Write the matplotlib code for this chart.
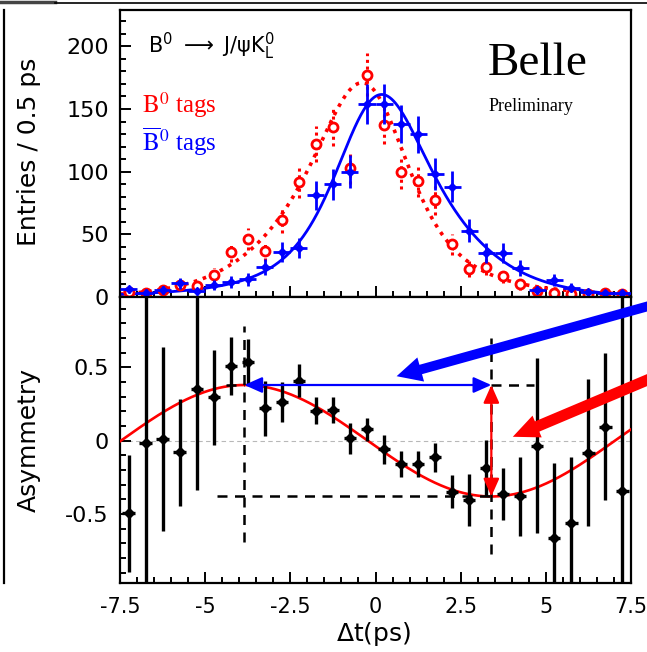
import numpy as np
import matplotlib
matplotlib.use('Agg')
import matplotlib.pyplot as plt
from matplotlib.lines import Line2D
from matplotlib.ticker import MultipleLocator

# bin centres of the 0.5 ps histogram
dt_bins = [-7.25, -6.75, -6.25, -5.75, -5.25, -4.75, -4.25, -3.75, -3.25, -2.75,
           -2.25, -1.75, -1.25, -0.75, -0.25, 0.25, 0.75, 1.25, 1.75, 2.25,
           2.75, 3.25, 3.75, 4.25, 4.75, 5.25, 5.75, 6.25, 6.75, 7.25]
half_bin = 0.25

# B0 tagged events
b0_counts = [4, 3, 5.5, 9.5, 8.5, 17.5, 36, 46, 37, 61.5,
             91.5, 122, 135.5, 103, 177.5, 137, 99.5, 92.5, 77, 42,
             22.5, 24, 16.5, 10, 5, 3, 2, 2, 3.5, 2]
b0_err = [2.6, 2.3, 3.0, 4.0, 3.8, 5.4, 7.8, 8.8, 7.9, 10.2,
          12.4, 14.4, 15.1, 13.2, 17.3, 15.2, 13.0, 12.5, 11.4, 8.4,
          6.2, 6.4, 5.3, 4.1, 2.9, 2.3, 1.8, 1.8, 2.4, 1.8]

# B0bar tagged events
b0bar_counts = [6, 3.5, 5.5, 11, 4.5, 9.5, 12, 14, 24, 36,
                39, 81, 90, 100, 154, 154, 138, 130, 98, 88,
                53, 35, 35, 23, 5.5, 13.5, 7.5, 4, 3, 3.5]
b0bar_err = [3.0, 2.5, 3.0, 4.3, 2.8, 4.0, 4.5, 4.9, 6.4, 7.8,
             8.1, 11.7, 12.3, 13.0, 16.0, 16.0, 15.3, 14.8, 12.9, 12.2,
             9.5, 7.7, 7.7, 6.2, 3.0, 4.8, 3.6, 2.6, 2.3, 2.4]

# asymmetry per bin
asym = [-0.495, -0.018, 0.012, -0.08, 0.352, 0.295, 0.51, 0.54, 0.22, 0.266,
        0.41, 0.205, 0.21, 0.016, 0.077, -0.059, -0.159, -0.159, -0.113, -0.347,
        -0.404, -0.188, -0.363, -0.38, -0.034, -0.66, -0.558, -0.082, 0.095, -0.343]
asym_err = [0.40, 1.5, 0.625, 0.365, 0.69, 0.325, 0.195, 0.155, 0.19, 0.135,
            0.115, 0.09, 0.09, 0.108, 0.08, 0.097, 0.09, 0.09, 0.098, 0.113,
            0.176, 0.19, 0.18, 0.27, 0.595, 0.51, 0.45, 0.50, 0.50, 1.5]

# fit parameters
fit_amp = 0.38
fit_omega = 0.4333
fit_t0 = -0.225
tau_b = 1.55
sigma_res = 0.76
t_centre = -0.1
norm_b0bar = 220
norm_b0 = 242


def asym_model(t):
    return -fit_amp * np.sin(fit_omega * (t - fit_t0))


def decay_shape(t_grid):
    # exponential decay smeared by a gaussian resolution
    step = t_grid[1] - t_grid[0]
    decay = np.exp(-np.abs(t_grid - t_centre) / tau_b)
    kt = np.arange(-600, 601) * step
    kern = np.exp(-0.5 * (kt / sigma_res) ** 2)
    kern /= kern.sum()
    return np.convolve(decay, kern, mode='same')


grid = np.linspace(-12, 12, 4801)
base = decay_shape(grid)
sel = np.abs(grid) <= 7.5
tt = grid[sel]
a_fit = asym_model(tt)
b0bar_fit = norm_b0bar * base[sel] * (1 - a_fit)
b0_fit = norm_b0 * base[sel] * (1 + a_fit)

fig = plt.figure(figsize=(6.47, 6.52), dpi=100)
W, H = 647.0, 652.0


def fpos(x, y):
    return x / W, 1 - y / H


ax1 = fig.add_axes([120 / W, 1 - 297 / H, 511 / W, 287 / H])
ax2 = fig.add_axes([120 / W, 1 - 583.3 / H, 511 / W, 286.3 / H])

for ax in (ax1, ax2):
    ax.set_xlim(-7.5, 7.5)
    for sp in ax.spines.values():
        sp.set_linewidth(1.6)
    ax.xaxis.set_major_locator(MultipleLocator(2.5))
    ax.xaxis.set_minor_locator(MultipleLocator(0.5))
    ax.tick_params(which='both', direction='in', top=False, right=False, width=1.4)
    ax.tick_params(which='major', length=8, pad=8)
    ax.tick_params(which='minor', length=4.5)

# --- top panel: decay time distributions
ax1.set_ylim(0, 229)
ax1.yaxis.set_major_locator(MultipleLocator(50))
ax1.yaxis.set_minor_locator(MultipleLocator(10))
ax1.tick_params(axis='y', labelsize=16)
ax1.tick_params(axis='x', labelbottom=False)

ax1.plot(tt, b0_fit, color='red', lw=2.6, ls=(0, (1, 1.6)), zorder=2)
ax1.plot(tt, b0bar_fit, color='blue', lw=2, zorder=2)

eb = ax1.errorbar(dt_bins, b0_counts, yerr=b0_err, xerr=0.15, fmt='o', ms=6.5,
                  mfc='white', mec='red', mew=2, ecolor='red', elinewidth=2.2,
                  capsize=0, zorder=3)
for lc in eb[2]:
    lc.set_linestyle((0, (1, 1.2)))
ax1.errorbar(dt_bins, b0bar_counts, yerr=b0bar_err, xerr=half_bin, fmt='D', ms=4.5,
             color='blue', elinewidth=2, capsize=0, zorder=4)

ax1.text(*fpos(148, 53), 'B$^0$ $\\longrightarrow$ J/ψK$^0_\\mathrm{L}$',
         transform=fig.transFigure, fontsize=15, family='DejaVu Sans',
         math_fontfamily='dejavusans', va='baseline', ha='left')
ax1.text(*fpos(142, 113), r'$\mathrm{B}^0$ tags', transform=fig.transFigure,
         fontsize=18, color='red', family='Liberation Serif', math_fontfamily='stix',
         va='baseline', ha='left')
ax1.text(*fpos(142, 151), r'$\overline{\mathrm{B}}^0$ tags', transform=fig.transFigure,
         fontsize=18, color='blue', family='Liberation Serif', math_fontfamily='stix',
         va='baseline', ha='left')
ax1.text(*fpos(488, 75), 'Belle', transform=fig.transFigure, fontsize=34,
         family='Liberation Serif', va='baseline', ha='left')
ax1.text(*fpos(489, 111), 'Preliminary', transform=fig.transFigure, fontsize=13,
         family='Liberation Serif', va='baseline', ha='left')

# --- bottom panel: asymmetry
ax2.set_ylim(-0.972, 0.98)
ax2.yaxis.set_major_locator(MultipleLocator(0.5))
ax2.yaxis.set_minor_locator(MultipleLocator(0.1))
ax2.tick_params(axis='y', labelsize=16)
ax2.tick_params(axis='x', labelsize=15, pad=10)
ax2.set_xticks([-7.5, -5, -2.5, 0, 2.5, 5, 7.5])
ax2.set_xticklabels(['-7.5', '-5', '-2.5', '0', '2.5', '5', '7.5'])
ax2.set_yticks([-0.5, 0, 0.5])
ax2.set_yticklabels(['-0.5', '0', '0.5'])

ax2.axhline(0, color='#b8b8b8', lw=0.8, ls=(0, (4, 3)), zorder=1)
t_full = np.linspace(-7.5, 7.5, 600)
ax2.plot(t_full, asym_model(t_full), color='red', lw=1.9, zorder=3)
ax2.errorbar(dt_bins, asym, yerr=asym_err, xerr=0.18, fmt='D', ms=5,
             color='black', elinewidth=2.4, capsize=0, zorder=4)

# oscillation amplitude / period markers
t_max = fit_t0 - np.pi / (2 * fit_omega)
t_min = fit_t0 + np.pi / (2 * fit_omega)
dash = dict(color='black', lw=1.8, ls=(0, (4, 3)), zorder=5)
ax2.plot([t_max, t_max], [-0.69, 0.78], **dash)
ax2.plot([t_min, t_min], [-0.77, 0.70], **dash)
ax2.plot([-4.65, t_min], [-fit_amp, -fit_amp], **dash)
ax2.plot([-4.4, t_max], [fit_amp, fit_amp], **dash)
ax2.plot([t_min, 4.65], [fit_amp, fit_amp], **dash)

ax2.annotate('', xy=(t_max, fit_amp), xytext=(t_min, fit_amp),
             arrowprops=dict(arrowstyle='<|-|>,head_length=0.9,head_width=0.4',
                             mutation_scale=12, color='blue', lw=1.6,
                             shrinkA=0, shrinkB=0), zorder=6)
ax2.annotate('', xy=(t_min, fit_amp), xytext=(t_min, -fit_amp),
             arrowprops=dict(arrowstyle='<|-|>,head_length=0.9,head_width=0.4',
                             mutation_scale=12, color='red', lw=1.6,
                             shrinkA=0, shrinkB=0), zorder=6)

# callout arrows coming in from the right
ax2.annotate('', xy=(0.62, 0.44), xytext=(8.6, 0.956), annotation_clip=False,
             arrowprops=dict(arrowstyle='simple,head_length=18,head_width=18,tail_width=7',
                             mutation_scale=1, color='blue', lw=0,
                             shrinkA=0, shrinkB=0), zorder=7)
ax2.annotate('', xy=(4.03, 0.027), xytext=(8.6, 0.475), annotation_clip=False,
             arrowprops=dict(arrowstyle='simple,head_length=19,head_width=17,tail_width=8',
                             mutation_scale=1, color='red', lw=0,
                             shrinkA=0, shrinkB=0), zorder=7)

fig.text(*fpos(374, 634), r'$\Delta$t(ps)', fontsize=18, ha='center', va='center',
         math_fontfamily='dejavusans')
fig.text(*fpos(29, 152), 'Entries / 0.5 ps', fontsize=18, rotation=90,
         ha='center', va='center')
fig.text(*fpos(29, 440), 'Asymmetry', fontsize=18, rotation=90,
         ha='center', va='center')

# edge of the neighbouring panel and the frame at the top
fig.add_artist(Line2D([3.5 / W, 3.5 / W], [1 - 10 / H, 1 - 583 / H], color='black', lw=1.6))
fig.add_artist(Line2D([0, 55 / W], [1 - 1.5 / H, 1 - 1.5 / H], color='#444444', lw=2.5))
fig.add_artist(Line2D([55 / W, 1], [1 - 2.5 / H, 1 - 2.5 / H], color='black', lw=1.2))

fig.savefig('out.png', dpi=100)
